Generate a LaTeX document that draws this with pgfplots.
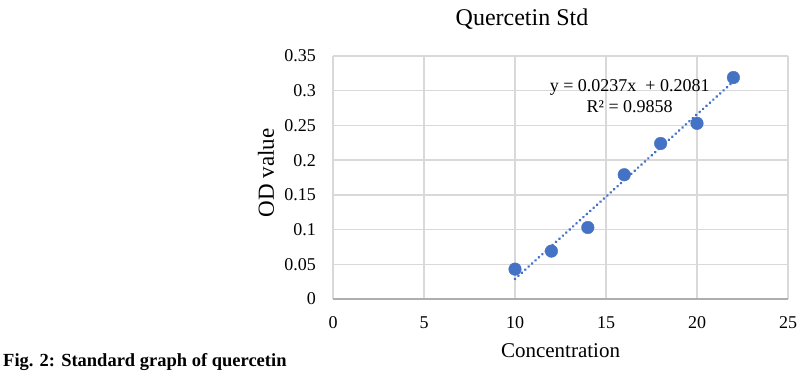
\documentclass[border=0pt]{standalone}
\usepackage{fontspec}
\setmainfont{Liberation Serif}
\usepackage{pgfplots}
\pgfplotsset{compat=1.18}
\definecolor{xlblue}{HTML}{4472C4}
\definecolor{gridc}{HTML}{D9D9D9}
\begin{document}
\begin{tikzpicture}[x=1bp,y=1bp]
\path[use as bounding box] (0,0) rectangle (801,376);
\begin{axis}[
  at={(333bp,77bp)}, anchor=south west,
  scale only axis, width=455bp, height=243bp,
  xmin=0, xmax=25, ymin=0, ymax=0.35,
  xtick={0,5,10,15,20,25},
  ytick={0,0.05,0.1,0.15,0.2,0.25,0.3,0.35},
  yticklabels={0,0.05,0.1,0.15,0.2,0.25,0.3,0.35},
  /pgf/number format/assume math mode=true,
  grid=major,
  major grid style={draw=gridc, line width=1.3bp},
  axis line style={draw=none},
  major tick length=0pt,
  tick style={draw=none},
  ticklabel style={font=\fontsize{18bp}{20bp}\selectfont, inner sep=0pt},
  xticklabel style={anchor=base, yshift=-29bp},
  yticklabel style={anchor=east, xshift=-17bp},
  xlabel={Concentration},
  ylabel={OD value},
  xlabel style={at={(axis description cs:0.5,-0.214)}, anchor=center, font=\fontsize{21bp}{24bp}\selectfont},
  ylabel style={at={(axis description cs:-0.147,0.519)}, anchor=center, font=\fontsize{23bp}{26bp}\selectfont},
  clip=false,
]
\draw[draw=gridc!80!black, line width=1.3bp] (axis cs:0,0) -- (axis cs:25,0);
\addplot[xlblue, line width=3bp, dash pattern=on 0.01bp off 4.6bp, line cap=round] coordinates {(10,0.0289) (22,0.3133)};
\addplot[only marks, mark=*, mark size=6.3bp, mark options={fill=xlblue, draw=xlblue}] coordinates {
(10,0.043) (12,0.069) (14,0.103) (16,0.179) (18,0.224) (20,0.253) (22,0.319)};
\node[font=\fontsize{18bp}{20bp}\selectfont, anchor=center] at (axis cs:16.3,0.304) {y = 0.0237x\ \ + 0.2081};
\node[font=\fontsize{18bp}{20bp}\selectfont, anchor=center] at (axis cs:16.3,0.277) {R² = 0.9858};
\end{axis}
\node[font=\fontsize{24bp}{28bp}\selectfont, anchor=base] at (522,351) {Quercetin Std};
\node[font=\fontsize{18.5bp}{21bp}\selectfont\bfseries, anchor=base west, inner sep=0pt] at (3,10) {Fig. 2: Standard graph of quercetin};
\end{tikzpicture}
\end{document}
